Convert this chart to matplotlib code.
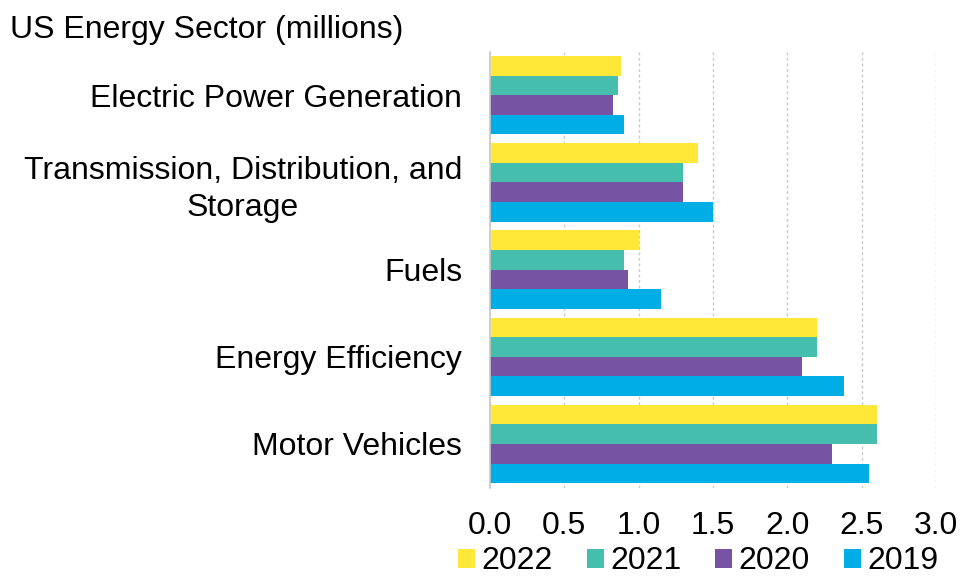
import matplotlib.pyplot as plt
import numpy as np

plt.rcParams['font.family'] = ['Liberation Sans', 'DejaVu Sans']

# Datos del gráfico
categorias = ["Electric Power Generation", "Transmission, Distribution, and\nStorage",
              "Fuels", "Energy Efficiency", "Motor Vehicles"]
anios = ["2022", "2021", "2020", "2019"]
v2022 = [0.88, 1.40, 1.00, 2.20, 2.60]
v2021 = [0.86, 1.30, 0.90, 2.20, 2.60]
v2020 = [0.83, 1.30, 0.93, 2.10, 2.30]
v2019 = [0.90, 1.50, 1.15, 2.38, 2.55]
colores = ["#FFE838", "#45BEAD", "#7754A3", "#00ADE4"]

fig = plt.figure(figsize=(9.62, 5.77), dpi=100)
ax = fig.add_axes([0.5094, 0.155, 0.4636, 0.7557])

y = np.arange(len(categorias))
alto = 0.225
series = [v2022, v2021, v2020, v2019]
for i, (vals, col, anio) in enumerate(zip(series, colores, anios)):
    ax.barh(y - 0.3375 + i * alto, vals, height=alto, color=col, label=anio, zorder=2)

ax.set_ylim(len(categorias) - 0.5, -0.5)
ax.set_xlim(0, 3.0)
ax.set_xticks(np.arange(0, 3.01, 0.5))
ax.set_xticklabels([f"{t:.1f}" for t in np.arange(0, 3.01, 0.5)])
ax.set_yticks(y)
ax.set_yticklabels(categorias)
for lbl in ax.get_yticklabels():
    lbl.set_multialignment('center')
    lbl.set_linespacing(1.3)

ax.tick_params(axis='x', length=0, labelsize=23, pad=17)
ax.tick_params(axis='y', length=0, labelsize=23, pad=20)
ax.grid(axis='x', color='#c8c8c8', linestyle=(0, (2, 2)), linewidth=1, zorder=0)
for s in ['top', 'right', 'bottom']:
    ax.spines[s].set_visible(False)
ax.spines['left'].set_color('#c8c8c8')
ax.spines['left'].set_linewidth(1.2)
ax.spines['left'].set_zorder(3)

fig.text(0.0104, 0.948, "US Energy Sector (millions)", fontsize=23, va='center', ha='left')

fig.legend(loc='center', bbox_to_anchor=(0.726, 0.027), ncol=4, frameon=False,
           fontsize=23, handlelength=0.53, handleheight=0.53, handletextpad=0.2,
           columnspacing=1.06, borderaxespad=0)

plt.savefig("out.png", dpi=100)
